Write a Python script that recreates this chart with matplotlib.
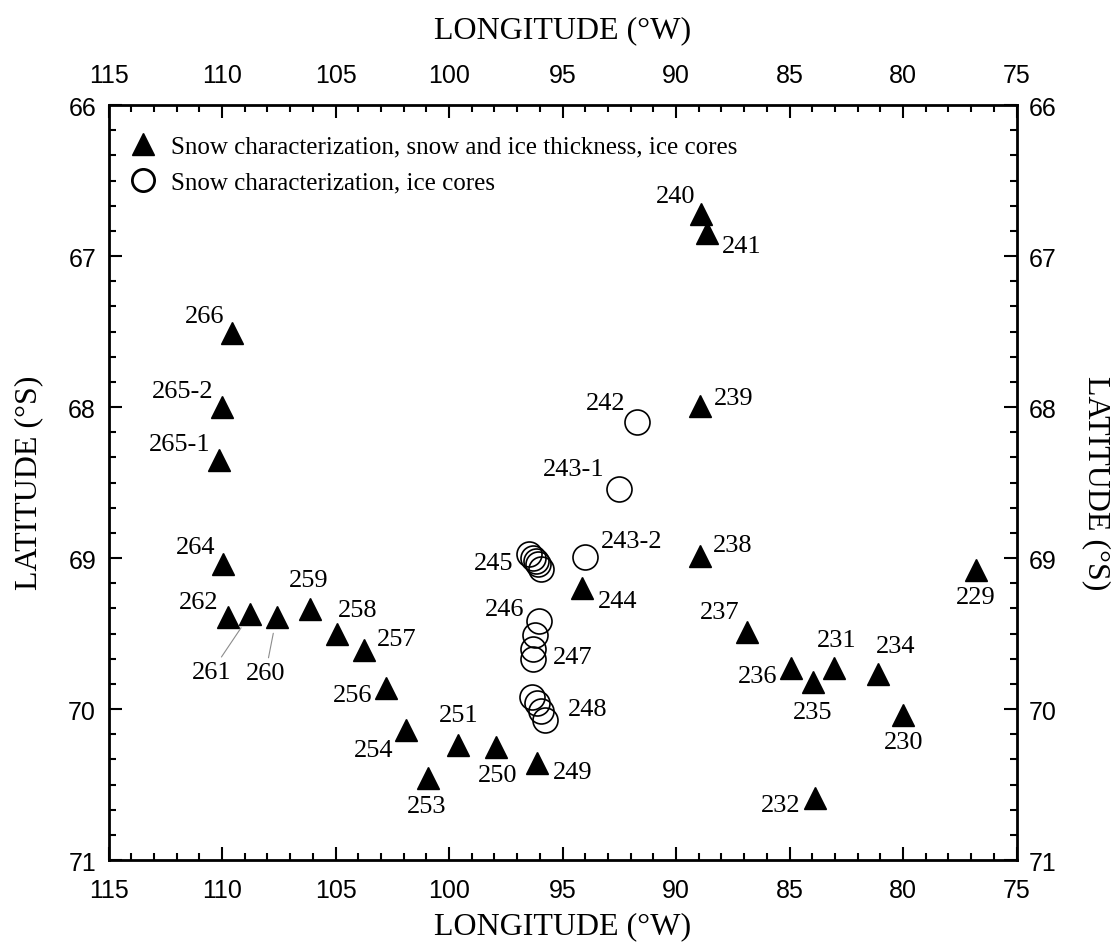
import numpy as np
import matplotlib.pyplot as plt
from matplotlib.ticker import MultipleLocator
from matplotlib.lines import Line2D

# stations with snow + ice thickness + cores (triangles)
tri_ids = ['229', '230', '231', '232', '234', '235', '236', '237', '238', '239',
           '240', '241', '244', '249', '250', '251', '253', '254', '256', '257',
           '258', '259', '260', '261', '262', '264', '265-1', '265-2', '266']
tri_lon = [76.80, 79.99, 83.03, 83.88, 81.09, 83.98, 84.93, 86.86, 88.94, 88.94,
           88.90, 88.65, 94.13, 96.12, 97.93, 99.59, 100.91, 101.88, 102.76, 103.73,
           104.95, 106.12, 107.60, 108.75, 109.75, 109.96, 110.13, 110.00, 109.55]
tri_lat = [69.08, 70.04, 69.73, 70.59, 69.77, 69.82, 69.73, 69.49, 68.985, 67.99,
           66.72, 66.85, 69.20, 70.36, 70.25, 70.24, 70.46, 70.14, 69.86, 69.61,
           69.50, 69.34, 69.39, 69.37, 69.39, 69.04, 68.35, 68.00, 67.51]

# stations with snow characterization + cores only (circles)
circ_ids = ['242', '243-1', '243-2',
            '245', '245', '245', '245', '245',
            '246', '247', '247', '247',
            '248', '248', '248', '248']
circ_lon = [91.70, 92.50, 94.00,
            96.46, 96.29, 96.17, 96.07, 95.96,
            96.02, 96.22, 96.30, 96.32,
            96.33, 96.11, 95.96, 95.77]
circ_lat = [68.10, 68.54, 68.995,
            68.97, 69.00, 69.02, 69.04, 69.07,
            69.42, 69.51, 69.60, 69.67,
            69.92, 69.96, 70.01, 70.07]

legend_labels = ['Snow characterization, snow and ice thickness, ice cores',
                 'Snow characterization, ice cores']

# label placement: (dx, dy) in pixels from the marker, horizontal alignment
label_pos = {
    '229': (0, -27, 'center'), '230': (0, -27, 'center'), '231': (2, 28, 'center'),
    '232': (-14, -7, 'right'), '234': (17, 28, 'center'), '235': (0, -30, 'center'),
    '236': (-14, -8, 'right'), '237': (-8, 20, 'right'), '238': (13, 11, 'left'),
    '239': (14, 8, 'left'), '240': (-6, 18, 'right'), '241': (15, -13, 'left'),
    '244': (16, -13, 'left'), '249': (16, -9, 'left'), '250': (2, -28, 'center'),
    '251': (0, 30, 'center'), '253': (-2, -28, 'center'), '254': (-13, -20, 'right'),
    '256': (-14, -7, 'right'), '257': (13, 11, 'left'), '258': (1, 24, 'left'),
    '259': (-1, 29, 'center'), '260': (-11, -56, 'center'), '261': (-39, -58, 'center'),
    '262': (-9, 15, 'right'), '264': (-8, 17, 'right'), '265-1': (-9, 16, 'right'),
    '265-2': (-9, 16, 'right'), '266': (-8, 17, 'right'),
    '242': (-12, 19, 'right'), '243-1': (-15, 20, 'right'), '243-2': (16, 16, 'left'),
    '245': (-16, -9, 'right'), '246': (-15, 12, 'right'), '247': (18, -22, 'left'),
    '248': (36, -12, 'left'),
}
leader = {'260', '261'}

serif = 'Liberation Serif'
sans = 'Liberation Sans'

fig = plt.figure(figsize=(11.2, 9.53), dpi=100)
ax = fig.add_axes([0.0969, 0.0965, 0.8107, 0.7922])

ax.plot(tri_lon, tri_lat, linestyle='none', marker='^', ms=16, color='black', zorder=3)
ax.plot(circ_lon, circ_lat, linestyle='none', marker='o', ms=18, mfc='none',
        mec='black', mew=1.2, zorder=3)

done = set()
for ids, lons, lats in [(tri_ids, tri_lon, tri_lat), (circ_ids, circ_lon, circ_lat)]:
    for s, x, y in zip(ids, lons, lats):
        if s in done:
            continue
        done.add(s)
        dx, dy, ha = label_pos[s]
        kw = {}
        if s in leader:
            kw['arrowprops'] = dict(arrowstyle='-', color='0.55', lw=0.8,
                                    shrinkA=1, shrinkB=12)
        ax.annotate(s, (x, y), xytext=(dx, dy), textcoords='offset pixels',
                    ha=ha, va='center', fontsize=19, family=serif, **kw)

ax.set_xlim(115, 75)
ax.set_ylim(71, 66)
ax.xaxis.set_major_locator(MultipleLocator(5))
ax.xaxis.set_minor_locator(MultipleLocator(1))
ax.yaxis.set_major_locator(MultipleLocator(1))
ax.yaxis.set_minor_locator(MultipleLocator(1 / 6))

ax.tick_params(which='both', direction='in', top=True, right=True,
               labeltop=True, labelright=True, width=1.5)
ax.tick_params(which='major', length=9.5)
ax.tick_params(which='minor', length=5)
ax.tick_params(axis='x', pad=13)
ax.tick_params(axis='y', pad=9)
for t in ax.xaxis.get_major_ticks() + ax.yaxis.get_major_ticks():
    for l in (t.label1, t.label2):
        l.set_family(sans)
        l.set_fontsize(18)
for sp in ax.spines.values():
    sp.set_linewidth(2)

fig.text(0.502, 0.968, 'LONGITUDE (°W)', ha='center', va='center', fontsize=23, family=serif)
fig.text(0.502, 0.028, 'LONGITUDE (°W)', ha='center', va='center', fontsize=23, family=serif)
fig.text(0.026, 0.493, 'LATITUDE (°S)', ha='center', va='center', fontsize=23,
         family=serif, rotation=90)
fig.text(0.979, 0.493, 'LATITUDE (°S)', ha='center', va='center', fontsize=23,
         family=serif, rotation=-90)

handles = [Line2D([], [], linestyle='none', marker='^', ms=16, color='black'),
           Line2D([], [], linestyle='none', marker='o', ms=16, mfc='none',
                  mec='black', mew=2)]
ax.legend(handles, legend_labels, loc='upper left', bbox_to_anchor=(-0.012, 1.0),
          frameon=False, prop={'family': serif, 'size': 18}, handlelength=1.2,
          handletextpad=0.55, labelspacing=0.55, borderaxespad=0.6, borderpad=0.6)

fig.savefig('out.png', dpi=100)
